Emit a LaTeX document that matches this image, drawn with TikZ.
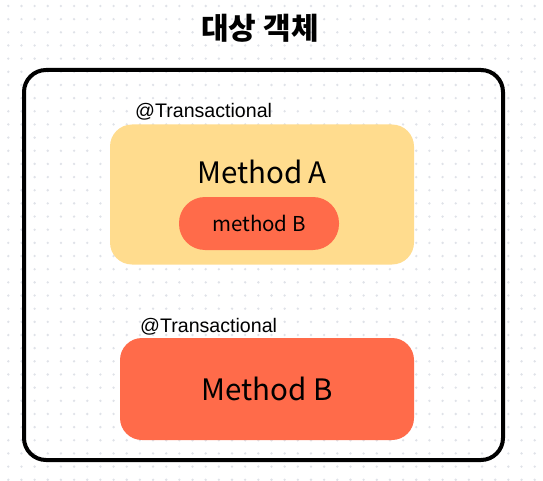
\documentclass[tikz,border=0pt]{standalone}
\usepackage{fontspec}
\setmainfont{Liberation Sans}
\newfontfamily\kr{Noto Sans CJK KR}
\definecolor{dotc}{HTML}{DFE2E8}
\definecolor{yel}{HTML}{FFDC8E}
\definecolor{cor}{HTML}{FF6B4A}
\begin{document}
\begin{tikzpicture}[x=1pt,y=-1pt,
  panel/.style={rounded corners=#1, inner sep=0pt, anchor=center},
  ann/.style={font=\fontsize{19.6}{19.6}\selectfont, anchor=base west, inner sep=0pt},
  big/.style={font=\kr\fontsize{29.5}{29.5}\selectfont, inner sep=0pt},
  small/.style={font=\kr\fontsize{20.5}{20.5}\selectfont, inner sep=0pt}]
\useasboundingbox (0,0) rectangle (543,481);
\fill[white] (0,0) rectangle (543,481);
\foreach \i in {0,...,41}{
  \foreach \j in {0,...,36}{
    \fill[dotc] ({8.3+13.16*\i},{6+13.16*\j}) circle (1.3);
  }
}
\node[font=\kr\bfseries\fontsize{30}{30}\selectfont, inner sep=0pt] (title) at (260,28) {대상 객체};
\node[panel=22, draw=black, line width=4, minimum width=479, minimum height=390] (obj) at (263.5,265) {};
\node[panel=22, fill=yel, minimum width=304, minimum height=140] (ma) at (262,194.5) {};
\node[big] (malab) at (262,172) {Method A};
\node[panel=26, fill=cor, minimum width=160, minimum height=53] (mbin) at (259,223.5) {};
\node[small] at (mbin.center) {method B};
\node[ann] (t1) at (135,118) {@Transactional};
\node[ann] (t2) at (140,332) {@Transactional};
\node[panel=22, fill=cor, minimum width=294, minimum height=102] (mb) at (267,389) {};
\node[big] at (mb.center) {Method B};
\end{tikzpicture}
\end{document}
